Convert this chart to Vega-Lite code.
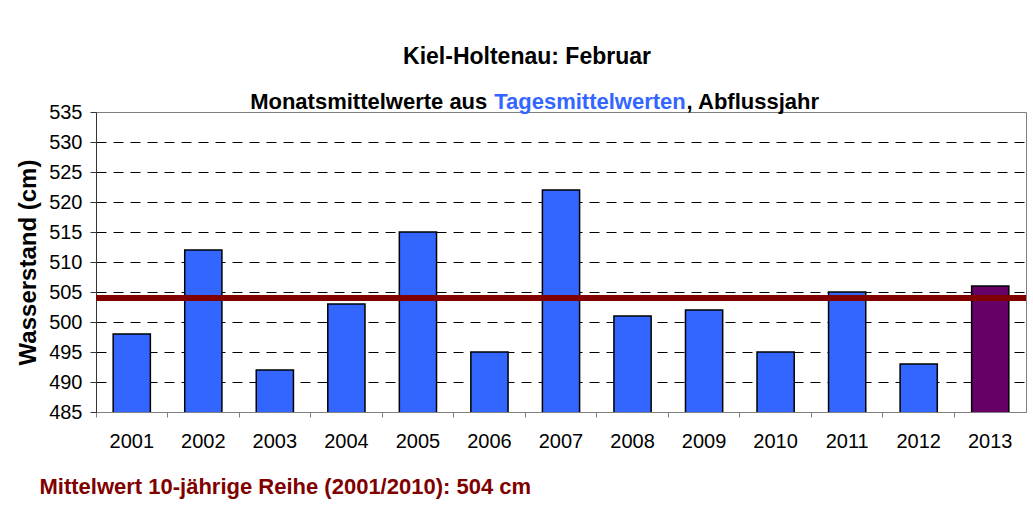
{
  "$schema": "https://vega.github.io/schema/vega-lite/v6.json",
  "autosize": "none",
  "width": 930,
  "height": 300,
  "padding": {"left": 96, "top": 112, "right": 7, "bottom": 112},
  "background": "white",
  "title": {
    "text": "Kiel-Holtenau: Februar",
    "font": "Liberation Sans",
    "fontSize": 23,
    "fontWeight": "bold",
    "color": "black",
    "anchor": "middle",
    "dx": -34,
    "offset": 22
  },
  "config": {
    "font": "Liberation Sans",
    "view": {"stroke": "#808080", "strokeWidth": 1}
  },
  "data": {
    "values": [
      {"year": "2001", "value": 498},
      {"year": "2002", "value": 512},
      {"year": "2003", "value": 492},
      {"year": "2004", "value": 503},
      {"year": "2005", "value": 515},
      {"year": "2006", "value": 495},
      {"year": "2007", "value": 522},
      {"year": "2008", "value": 501},
      {"year": "2009", "value": 502},
      {"year": "2010", "value": 495},
      {"year": "2011", "value": 505},
      {"year": "2012", "value": 493},
      {"year": "2013", "value": 506}
    ]
  },
  "encoding": {
    "y": {
      "field": "value",
      "type": "quantitative",
      "scale": {"domain": [485, 535], "nice": false, "zero": false},
      "axis": {
        "title": "Wasserstand (cm)",
        "titleFontSize": 24,
        "titleFontWeight": "bold",
        "titleColor": "black",
        "titlePadding": 8,
        "values": [485, 490, 495, 500, 505, 510, 515, 520, 525, 530, 535],
        "labelOverlap": false,
        "labelFontSize": 20,
        "labelColor": "black",
        "labelPadding": 8,
        "tickSize": 6,
        "tickColor": "#333333",
        "domainColor": "#333333",
        "grid": true,
        "gridColor": "black",
        "gridDash": [10, 7],
        "gridWidth": 1,
        "gridOpacity": {"condition": {"test": "datum.value == 535", "value": 0}, "value": 1}
      }
    }
  },
  "layer": [
    {
      "mark": {"type": "bar", "width": {"band": 0.52}, "stroke": "black", "strokeWidth": 1.5, "clip": true},
      "encoding": {
        "x": {
          "field": "year",
          "type": "ordinal",
          "scale": {"paddingInner": 0, "paddingOuter": 0},
          "axis": {
            "title": "Mittelwert 10-jährige Reihe (2001/2010): 504 cm",
            "titleColor": "#800000",
            "titleFont": "Liberation Sans",
            "titleFontSize": 22,
            "titleFontWeight": "bold",
            "titleAnchor": "start",
            "titleAlign": "left",
            "titleBaseline": "alphabetic",
            "titleX": -57,
            "titleY": 81,
            "labelAngle": 0,
            "labelFontSize": 20,
            "labelColor": "black",
            "labelPadding": 14,
            "labelOverlap": false,
            "bandPosition": 0,
            "tickSize": 5,
            "tickColor": "#808080",
            "domainColor": "#808080",
            "grid": false
          }
        },
        "fill": {
          "condition": {"test": "datum.year == '2013'", "value": "#660066"},
          "value": "#3366FF"
        }
      }
    },
    {
      "mark": {"type": "rule", "color": "#800000", "strokeWidth": 5},
      "encoding": {"y": {"datum": 504}}
    },
    {
      "transform": [{"filter": "datum.year == '2007'"}],
      "mark": {"type": "text", "text": "Monatsmittelwerte aus", "font": "Liberation Sans", "fontSize": 22, "fontWeight": "bold", "color": "black", "align": "right", "baseline": "alphabetic", "dx": -73.7, "dy": -3},
      "encoding": {"x": {"datum": "2007"}, "y": {"datum": 535}}
    },
    {
      "transform": [{"filter": "datum.year == '2007'"}],
      "mark": {"type": "text", "text": "Tagesmittelwerten", "font": "Liberation Sans", "fontSize": 22, "fontWeight": "bold", "color": "#3366FF", "align": "center", "baseline": "alphabetic", "dx": 29, "dy": -3},
      "encoding": {"x": {"datum": "2007"}, "y": {"datum": 535}}
    },
    {
      "transform": [{"filter": "datum.year == '2007'"}],
      "mark": {"type": "text", "text": ", Abflussjahr", "font": "Liberation Sans", "fontSize": 22, "fontWeight": "bold", "color": "black", "align": "left", "baseline": "alphabetic", "dx": 125.6, "dy": -3},
      "encoding": {"x": {"datum": "2007"}, "y": {"datum": 535}}
    }
  ]
}
